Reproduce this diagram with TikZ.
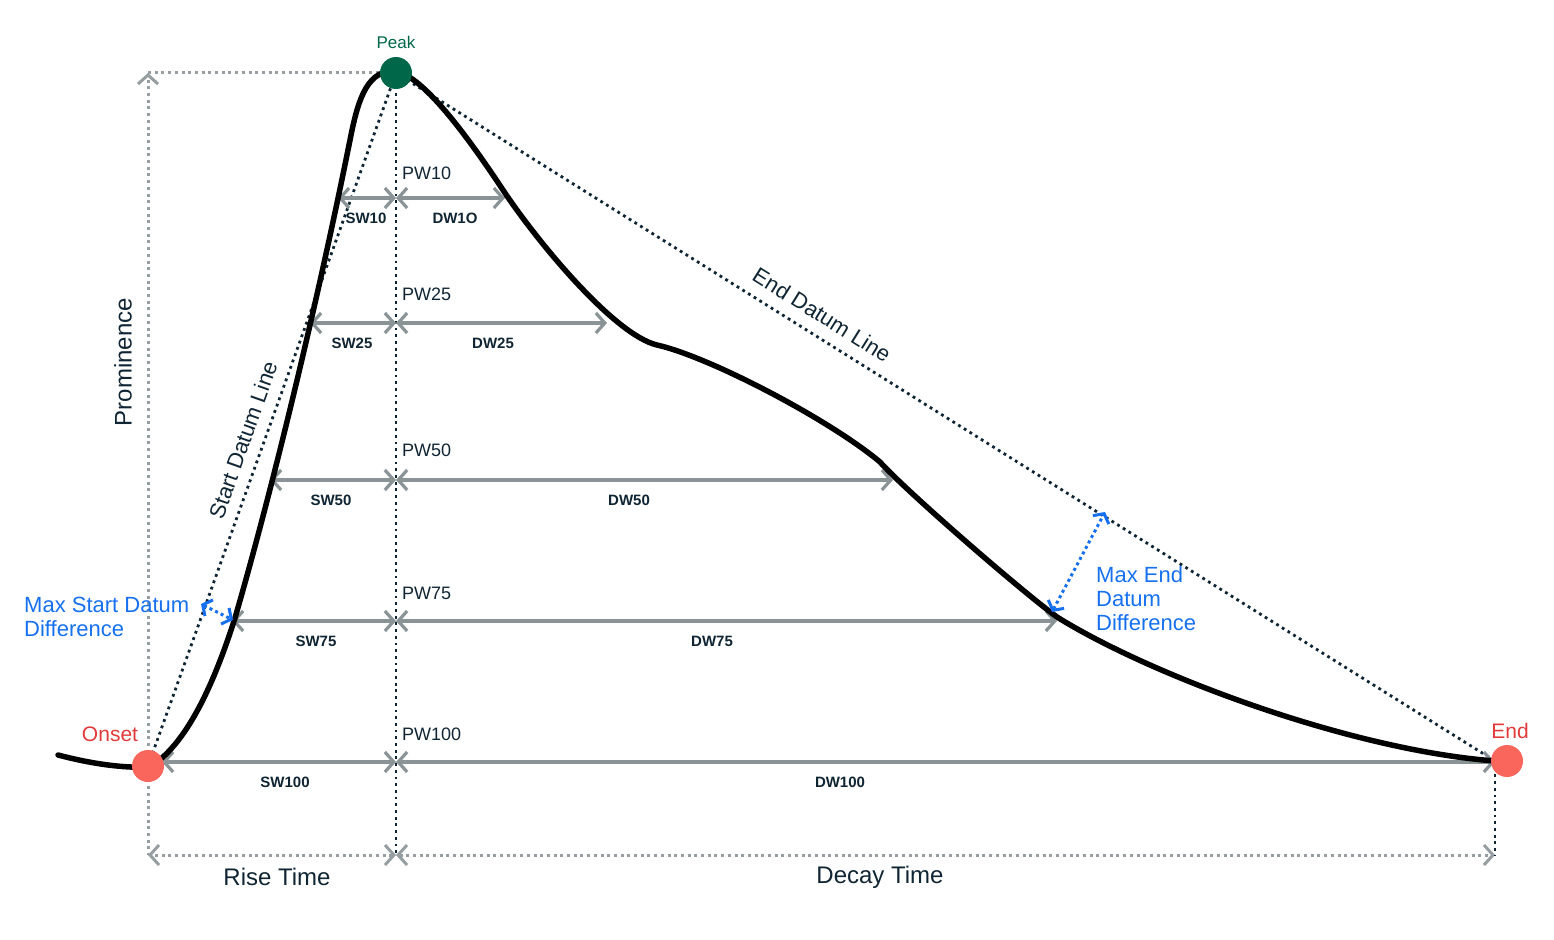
\documentclass[tikz,border=0pt]{standalone}
\usepackage{fontspec}
\setmainfont{Liberation Sans}
\usepackage{xcolor}
\usetikzlibrary{arrows.meta,positioning,calc}

\definecolor{navy}{RGB}{16,37,51}
\definecolor{arrowgrey}{RGB}{138,148,151}
\definecolor{dotgrey}{RGB}{150,158,161}
\definecolor{onsetred}{RGB}{250,102,92}
\definecolor{labelred}{RGB}{226,58,58}
\definecolor{peakgreen}{RGB}{0,104,72}
\definecolor{datumblue}{RGB}{22,112,240}

\begin{document}
\begin{tikzpicture}[x=1pt, y=-1pt,
  marker/.style={circle, minimum size=32pt, inner sep=0pt},
  widtharrow/.style={draw=arrowgrey, line width=3.2pt, {Straight Barb[length=9pt,width=20pt]}-{Straight Barb[length=9pt,width=20pt]}},
  greydot/.style={draw=dotgrey, line width=3pt, dash pattern=on 3pt off 3.7pt},
  darkdot/.style={draw=navy, line width=2.8pt, dash pattern=on 2.8pt off 3.9pt},
  bluedot/.style={draw=datumblue, line width=3pt, dash pattern=on 3pt off 3.2pt, {Straight Barb[length=7pt,width=18pt]}-{Straight Barb[length=7pt,width=18pt]}},
  signal/.style={draw=black, line width=5.5pt, line cap=round, line join=round},
  pwlabel/.style={anchor=west, inner sep=0pt, text=navy, font=\fontsize{18}{20}\selectfont},
  wlabel/.style={inner sep=0pt, text=navy, font=\fontsize{15}{17}\selectfont\bfseries},
  axlabel/.style={inner sep=0pt, text=navy, font=\fontsize{24}{26}\selectfont},
  bluelabel/.style={anchor=west, inner sep=0pt, align=left, text=datumblue, font=\fontsize{22}{24}\selectfont}
]
\useasboundingbox (0,0) rectangle (1554,939);

% Key points
\node[marker] (onset) at (148,766) {};
\node[marker] (peak) at (396,73) {};
\node[marker] (end) at (1507,761) {};
\coordinate (promtop) at (148,73);
\coordinate (risel) at (148,855);
\coordinate (pwbot) at (396,855);
\coordinate (decr) at (1495,855);
\coordinate (endbase) at (1495,761);

% Prominence and time spans
\draw[greydot, -{Straight Barb[length=9pt,width=20pt]}] (onset.center) -- (promtop);
\draw[greydot] (promtop) -- (peak.center);
\draw[greydot] (onset.center) -- (risel);
\draw[greydot, {Straight Barb[length=9pt,width=20pt]}-{Straight Barb[length=9pt,width=20pt]}] (pwbot) -- (risel);
\draw[greydot, {Straight Barb[length=9pt,width=20pt]}-{Straight Barb[length=9pt,width=20pt]}] (pwbot) -- (decr);
\draw[darkdot] (peak.center) -- (pwbot);
\draw[darkdot] (endbase) -- (decr);

% Datum lines
\draw[darkdot] (onset.center) -- (peak.center);
\draw[darkdot] (peak.center) -- (endbase);
\node[axlabel, font=\fontsize{22}{24}\selectfont, rotate=70.5] (startdatum) at (243,440) {Start Datum Line};
\node[axlabel, font=\fontsize{22}{24}\selectfont, rotate=-32] (enddatum) at (822,315) {End Datum Line};

% Widths at each level
\foreach \lv/\yy/\xl/\xr/\xs/\xd/\dname/\py in {10/198/338/505/366/455/DW1O/173, 25/323/310/607/352/493/DW25/294, 50/480/270/893/331/629/DW50/450, 75/621/232/1057/316/712/DW75/593, 100/762/162/1495/285/840/DW100/734}{
  \coordinate (sw\lv) at (\xl,\yy);
  \coordinate (pw\lv) at (396,\yy);
  \coordinate (dw\lv) at (\xr,\yy);
  \draw[widtharrow] (sw\lv) -- (pw\lv);
  \draw[widtharrow] (pw\lv) -- (dw\lv);
  \node[pwlabel] at (402,\py) {PW\lv};
  \node[wlabel] at (\xs,\yy+20) {SW\lv};
  \node[wlabel] at (\xd,\yy+20) {\dname};
}

% Signal
\draw[signal] (58,755) .. controls (100,766) and (130,768) .. (150,767)
  .. controls (185,745) and (212,690) .. (235,618)
  .. controls (275,480) and (320,290) .. (350,140)
  .. controls (357,105) and (365,72) .. (392,71)
  .. controls (420,70) and (470,140) .. (505,193)
  .. controls (540,245) and (615,335) .. (657,345)
  .. controls (710,357) and (830,420) .. (880,462)
  .. controls (905,490) and (1020,590) .. (1057,617)
  .. controls (1150,675) and (1350,750) .. (1495,761);

% Max datum differences
\coordinate (msa) at (201,604);
\coordinate (msb) at (233,620);
\coordinate (mea) at (1052,612);
\coordinate (meb) at (1105,512);
\draw[bluedot] (msa) -- (msb);
\draw[bluedot] (mea) -- (meb);
\node[bluelabel] (maxstart) at (24,617) {Max Start Datum\\Difference};
\node[bluelabel] (maxend) at (1096,599) {Max End\\Datum\\Difference};

% Markers on top
\fill[onsetred] (onset) circle (16pt);
\fill[peakgreen] (peak) circle (16pt);
\fill[onsetred] (end) circle (16pt);
\node[inner sep=0pt, text=labelred, font=\fontsize{21}{23}\selectfont] at (110,734) {Onset};
\node[inner sep=0pt, text=peakgreen, font=\fontsize{17}{19}\selectfont] at (396,42) {Peak};
\node[inner sep=0pt, text=labelred, font=\fontsize{21}{23}\selectfont] at (1510,731) {End};

% Axis texts
\node[axlabel, rotate=90] (prom) at (123,362) {Prominence};
\node[axlabel] (rise) at (277,877) {Rise Time};
\node[axlabel] (decay) at (880,877) {Decay Time};

\end{tikzpicture}
\end{document}
